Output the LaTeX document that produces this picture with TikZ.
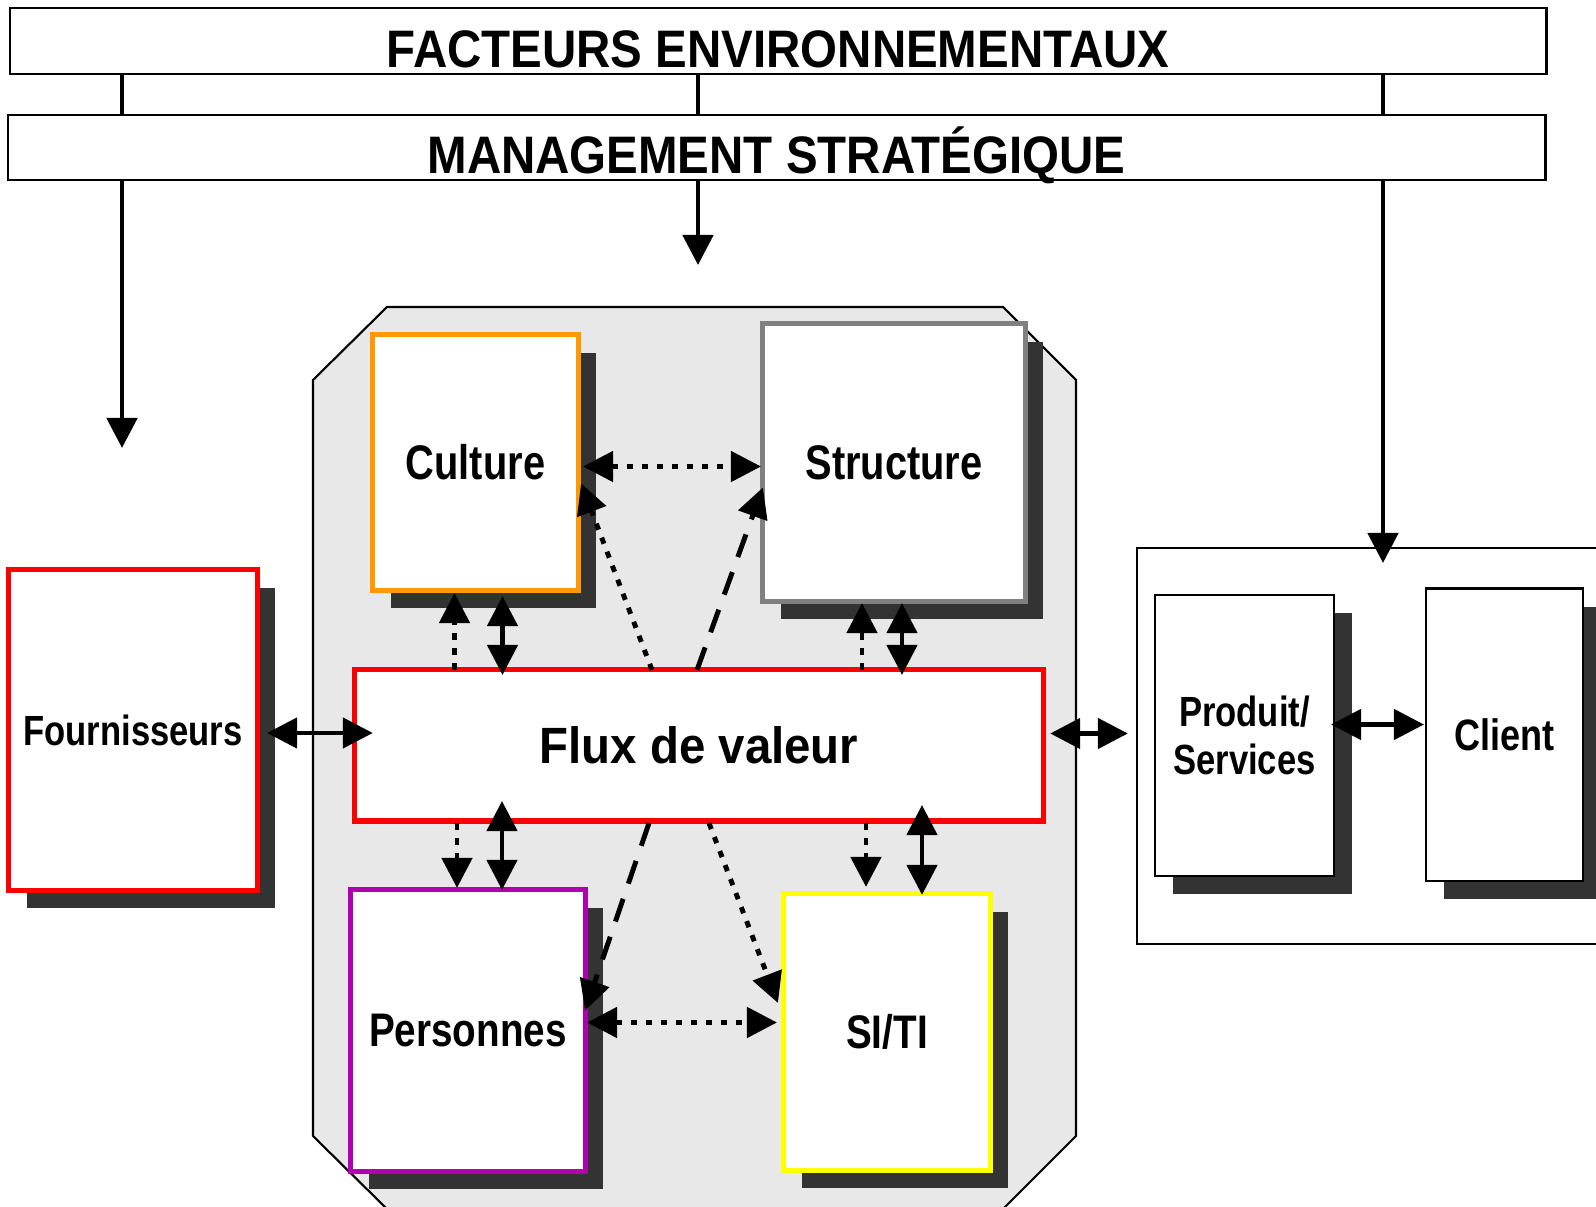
\documentclass[tikz,border=0pt]{standalone}
\usepackage{fontspec}
\setmainfont{Liberation Sans}
\newfontfamily\narrowfont{Liberation Sans}[FakeStretch=0.82]
\newfontfamily\fluxfont{Liberation Sans}[FakeStretch=0.93]
\newfontfamily\headfont{Liberation Sans}[FakeStretch=0.9]
\usetikzlibrary{calc,arrows.meta,shadows}

\definecolor{octgray}{RGB}{232,232,232}
\definecolor{shadowgray}{RGB}{51,51,51}
\definecolor{cultureorange}{RGB}{255,153,0}
\definecolor{structgray}{RGB}{128,128,128}
\definecolor{persviolet}{RGB}{176,0,176}
\definecolor{sityellow}{RGB}{255,255,0}

\tikzset{
	>={Triangle[length=3mm,width=3mm]},
	bar/.style={draw=black, line width=0.6pt, fill=white, inner sep=0pt, outer sep=0pt, text depth=0pt, font=\headfont\bfseries\fontsize{15}{17}\selectfont},
	pillar/.style={line width=1.4pt},
	plainbox/.style={draw, fill=white, inner sep=0pt, outer sep=0pt, line width=1.45pt, align=center, font=\narrowfont\bfseries},
	box/.style={plainbox, general shadow={fill=shadowgray, shadow xshift=0.18cm, shadow yshift=-0.18cm}},
	thinbox/.style={box, line width=0.8pt},
	link/.style={line width=1.3pt},
	dotlink/.style={line width=1.4pt, dash pattern=on 0.65mm off 0.85mm},
	dashlink/.style={line width=1.4pt, dash pattern=on 2.4mm off 1.6mm}
}

\begin{document}
\begin{tikzpicture}[x=0.01cm, y=-0.01cm]
			%%%%% START %%%%%
			\useasboundingbox (0,0) rectangle (1596,1207);
			
			% bandeaux du haut
			\node[bar, minimum width=15.36cm, minimum height=0.66cm, text height=0.52cm] (facteurs) at (778,41) {FACTEURS ENVIRONNEMENTAUX};
			\node[bar, minimum width=15.37cm, minimum height=0.65cm, text height=0.51cm] (management) at (776.5,147.5) {MANAGEMENT STRAT\'EGIQUE};
			
			\coordinate (tipL) at (122,448);
			\coordinate (tipM) at (698,265);
			\coordinate (tipR) at (1383,563);
			\foreach \t in {tipL,tipM,tipR}{
				\draw[pillar] (facteurs.south -| \t) -- (management.north -| \t);
				\draw[pillar,->] (management.south -| \t) -- (\t);
			}
			
			% entreprise
			\draw[fill=octgray, line width=0.6pt] (387,307) -- (1003,307) -- (1076,380) -- (1076,1136) -- (1003,1209) -- (387,1209) -- (313,1136) -- (313,380) -- cycle;
			
			% offre
			\node[draw, line width=0.5pt, minimum width=4.83cm, minimum height=3.96cm, inner sep=0pt, outer sep=0pt] (offre) at (1378.5,746) {};
			
			\node[box, draw=red, minimum width=2.48cm, minimum height=3.2cm, font=\narrowfont\bfseries\fontsize{12}{14}\selectfont] (four) at (133,730) {Fournisseurs};
			\node[box, draw=cultureorange, minimum width=2.05cm, minimum height=2.55cm, font=\narrowfont\bfseries\fontsize{13.8}{16}\selectfont] (culture) at (475.5,462.5) {Culture};
			\node[box, draw=structgray, minimum width=2.62cm, minimum height=2.77cm, font=\narrowfont\bfseries\fontsize{13.8}{16}\selectfont] (structure) at (894,462.5) {Structure};
			\node[plainbox, draw=red, minimum width=6.88cm, minimum height=1.51cm, font=\fluxfont\bfseries\fontsize{14.5}{16}\selectfont] (flux) at (699,745.5) {Flux de valeur};
			\node[box, draw=persviolet, minimum width=2.34cm, minimum height=2.81cm, font=\narrowfont\bfseries\fontsize{13.4}{16}\selectfont] (personnes) at (468,1030.5) {Personnes};
			\node[box, draw=sityellow, minimum width=2.06cm, minimum height=2.76cm, font=\narrowfont\bfseries\fontsize{13.4}{16}\selectfont] (siti) at (887,1032) {SI/TI};
			\node[thinbox, minimum width=1.79cm, minimum height=2.81cm, font=\narrowfont\bfseries\fontsize{12}{13.7}\selectfont] (produit) at (1244.5,735.5) {Produit/\\Services};
			\node[thinbox, minimum width=1.57cm, minimum height=2.92cm, font=\narrowfont\bfseries\fontsize{12.5}{14}\selectfont] (client) at (1504.5,735) {Client};
			
			% liens autour du flux
			\draw[dotlink,<->] ($(culture.east)+(5,4)$) -- ($(culture.east -| structure.west)+(-2,4)$);
			\draw[dotlink,->] ($(flux.north)+(-47,0)$) -- ($(culture.east)+(3,21)$);
			\draw[dashlink,->] ($(flux.north)+(-2,0)$) -- ($(structure.west)+(0,25)$);
			\draw[dotlink,->] ($(flux.north -| culture.south)+(-21,0)$) -- ($(culture.south)+(-21,3)$);
			\draw[link,<->] ($(culture.south)+(27,6)$) -- ($(flux.north -| culture.south)+(27,5)$);
			\draw[dotlink,->] ($(flux.north -| structure.south)+(-32,0)$) -- ($(structure.south)+(-32,2)$);
			\draw[link,<->] ($(structure.south)+(8,2)$) -- ($(flux.north -| structure.south)+(8,5)$);
			
			\draw[dotlink,->] ($(flux.south -| personnes.north)+(-11,2)$) -- ($(personnes.north)+(-11,-2)$);
			\draw[link,<->] ($(flux.south -| personnes.north)+(34,-20)$) -- ($(personnes.north)+(34,0)$);
			\draw[dashlink,->] ($(flux.south)+(-50,2)$) -- ($(personnes.east)+(0,-20)$);
			\draw[dotlink,->] ($(flux.south)+(10,2)$) -- ($(siti.west)+(-6,-29)$);
			\draw[dotlink,<->] ($(personnes.east)+(2,-8)$) -- ($(personnes.east -| siti.west)+(-7,-8)$);
			\draw[dotlink,->] ($(flux.south -| siti.north)+(-21,2)$) -- ($(siti.north)+(-21,-7)$);
			\draw[link,<->] ($(flux.south -| siti.north)+(35,-16)$) -- ($(siti.north)+(35,1)$);
			
			\draw[link,<->] ($(four.east)+(10,3)$) -- ($(four.east -| flux.west)+(18,3)$);
			\draw[link,<->] ($(flux.east)+(7,-12)$) -- ($(flux.east -| offre.west)+(-9,-12)$);
			\draw[link,<->] ($(produit.east)+(-3,-11)$) -- ($(produit.east -| client.west)+(-2,-11)$);
			
			%%%%% END %%%%%
\end{tikzpicture}
\end{document}
